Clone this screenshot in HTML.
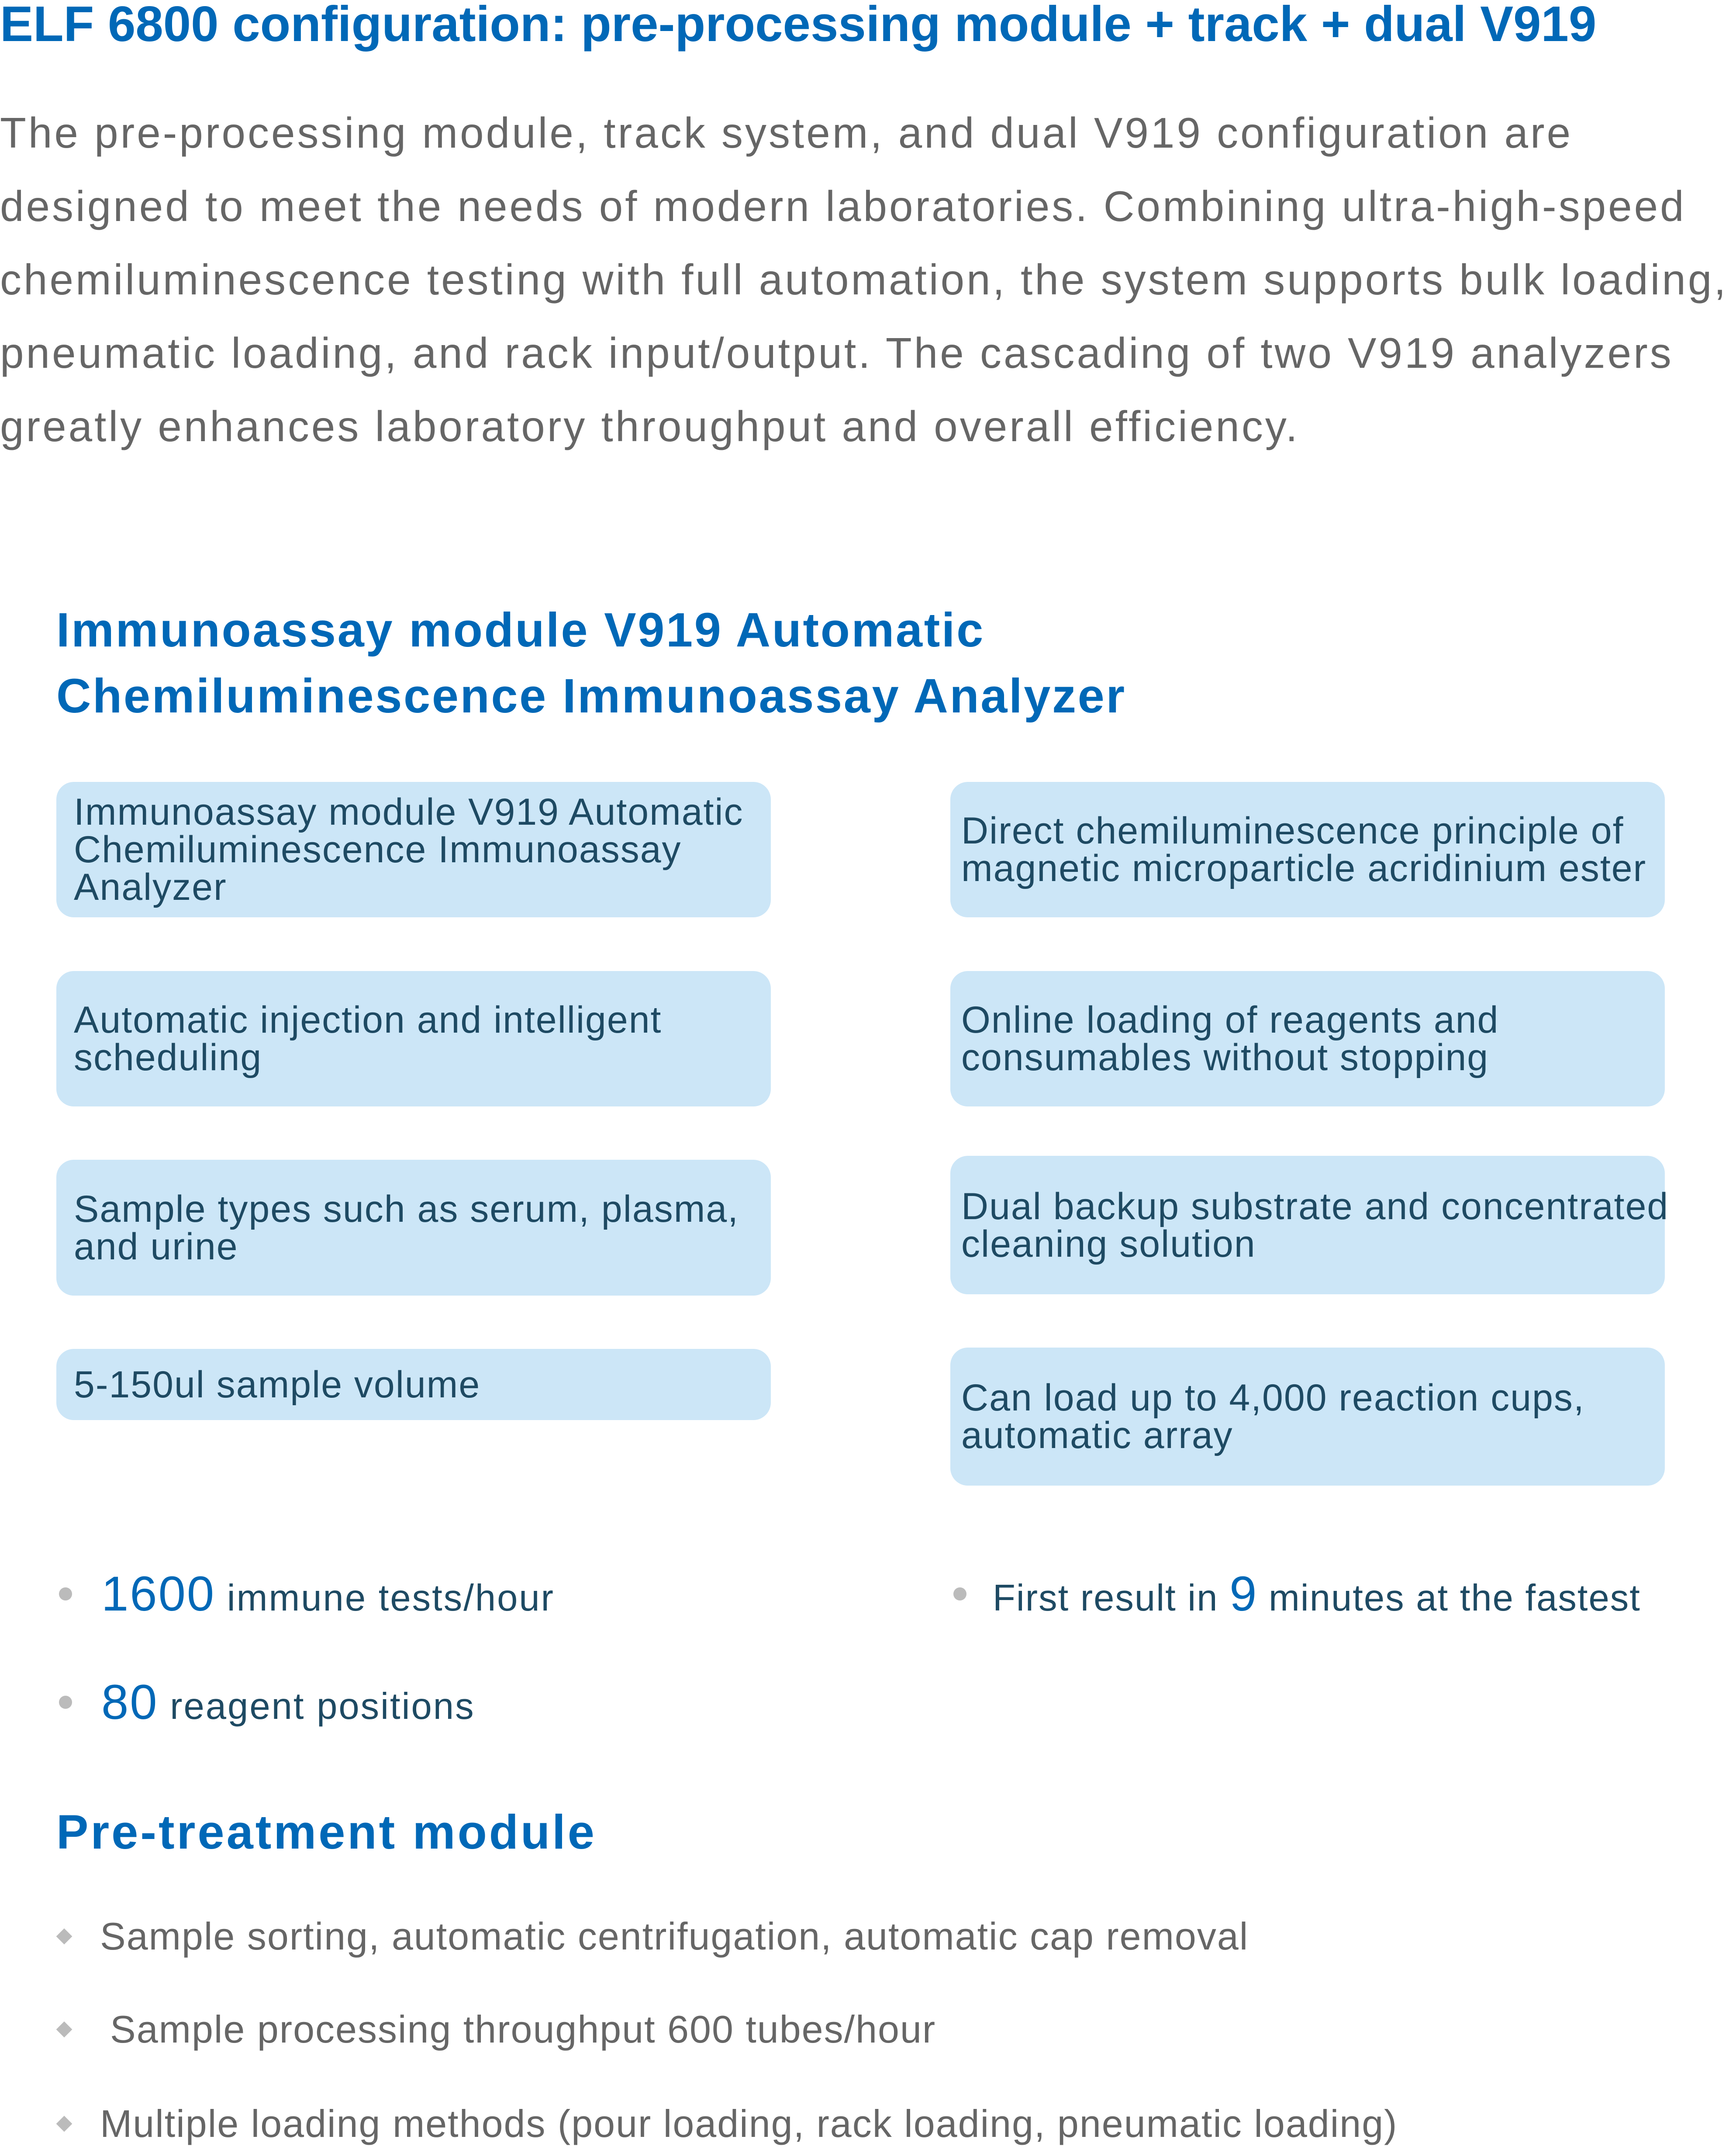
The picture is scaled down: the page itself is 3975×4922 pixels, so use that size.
<!DOCTYPE html>
<html><head><meta charset="utf-8"><style>
body{margin:0;width:3975px;height:4882px;background:#fff;position:relative;overflow:hidden;font-family:"Liberation Sans",sans-serif}
.a{position:absolute;white-space:nowrap}
.t{color:#0068b7;font-weight:bold;font-size:110px;line-height:130px}
.p{color:#666;font-size:98px;line-height:168px;left:0;top:220px;letter-spacing:5px}
.box{position:absolute;background:#cce6f7;border-radius:40px;display:flex;align-items:center;color:#1e4a63;font-size:86px;line-height:86px;box-sizing:border-box;padding-left:40px;white-space:nowrap;letter-spacing:2px}
.L{left:129px;width:1636px}.R{left:2176px;width:1636px;padding-left:25px}
.st{color:#1e4a63;font-size:85px;line-height:120px;letter-spacing:3px}
.st b{font-weight:normal;color:#0068b7;font-size:112px}
.dot{position:absolute;width:30px;height:30px;border-radius:50%;background:#bbb}
.di{position:absolute;width:26px;height:26px;background:#bbb;transform:rotate(45deg)}
.li{color:#666;font-size:88px;line-height:120px;left:229px;letter-spacing:2px}
</style></head><body>
<div class="a t" style="left:0;top:-9px;font-size:114px">ELF 6800 configuration: pre-processing module + track + dual V919</div>
<div class="a p">The pre-processing module, track system, and dual V919 configuration are<br>designed to meet the needs of modern laboratories. Combining ultra-high-speed<br>chemiluminescence testing with full automation, the system supports bulk loading,<br>pneumatic loading, and rack input/output. The cascading of two V919 analyzers<br>greatly enhances laboratory throughput and overall efficiency.</div>
<div class="a t" style="left:129px;top:1367px;line-height:151px;letter-spacing:3.6px">Immunoassay module V919 Automatic<br>Chemiluminescence Immunoassay Analyzer</div>

<div class="box L" style="top:1790px;height:310px">Immunoassay module V919 Automatic<br>Chemiluminescence Immunoassay<br>Analyzer</div>
<div class="box R" style="top:1790px;height:310px">Direct chemiluminescence principle of<br>magnetic microparticle acridinium ester</div>
<div class="box L" style="top:2223px;height:310px">Automatic injection and intelligent<br>scheduling</div>
<div class="box R" style="top:2223px;height:310px">Online loading of reagents and<br>consumables without stopping</div>
<div class="box L" style="top:2655px;height:311px">Sample types such as serum, plasma,<br>and urine</div>
<div class="box R" style="top:2646px;height:317px">Dual backup substrate and concentrated<br>cleaning solution</div>
<div class="box L" style="top:3088px;height:163px">5-150ul sample volume</div>
<div class="box R" style="top:3085px;height:316px">Can load up to 4,000 reaction cups,<br>automatic array</div>

<div class="dot" style="left:135px;top:3634px"></div>
<div class="a st" style="left:232px;top:3589px"><b>1600</b> immune tests/hour</div>
<div class="dot" style="left:2183px;top:3634px"></div>
<div class="a st" style="left:2273px;top:3589px;letter-spacing:2px">First result in <b>9</b> minutes at the fastest</div>
<div class="dot" style="left:135px;top:3882px"></div>
<div class="a st" style="left:232px;top:3837px"><b>80</b> reagent positions</div>

<div class="a t" style="left:129px;top:4130px;letter-spacing:5px">Pre-treatment module</div>
<div class="di" style="left:134px;top:4420px"></div>
<div class="a li" style="top:4373px">Sample sorting, automatic centrifugation, automatic cap removal</div>
<div class="di" style="left:134px;top:4633px"></div>
<div class="a li" style="top:4586px;left:252px">Sample processing throughput 600 tubes/hour</div>
<div class="di" style="left:134px;top:4849px"></div>
<div class="a li" style="top:4802px">Multiple loading methods (pour loading, rack loading, pneumatic loading)</div>
</body></html>
